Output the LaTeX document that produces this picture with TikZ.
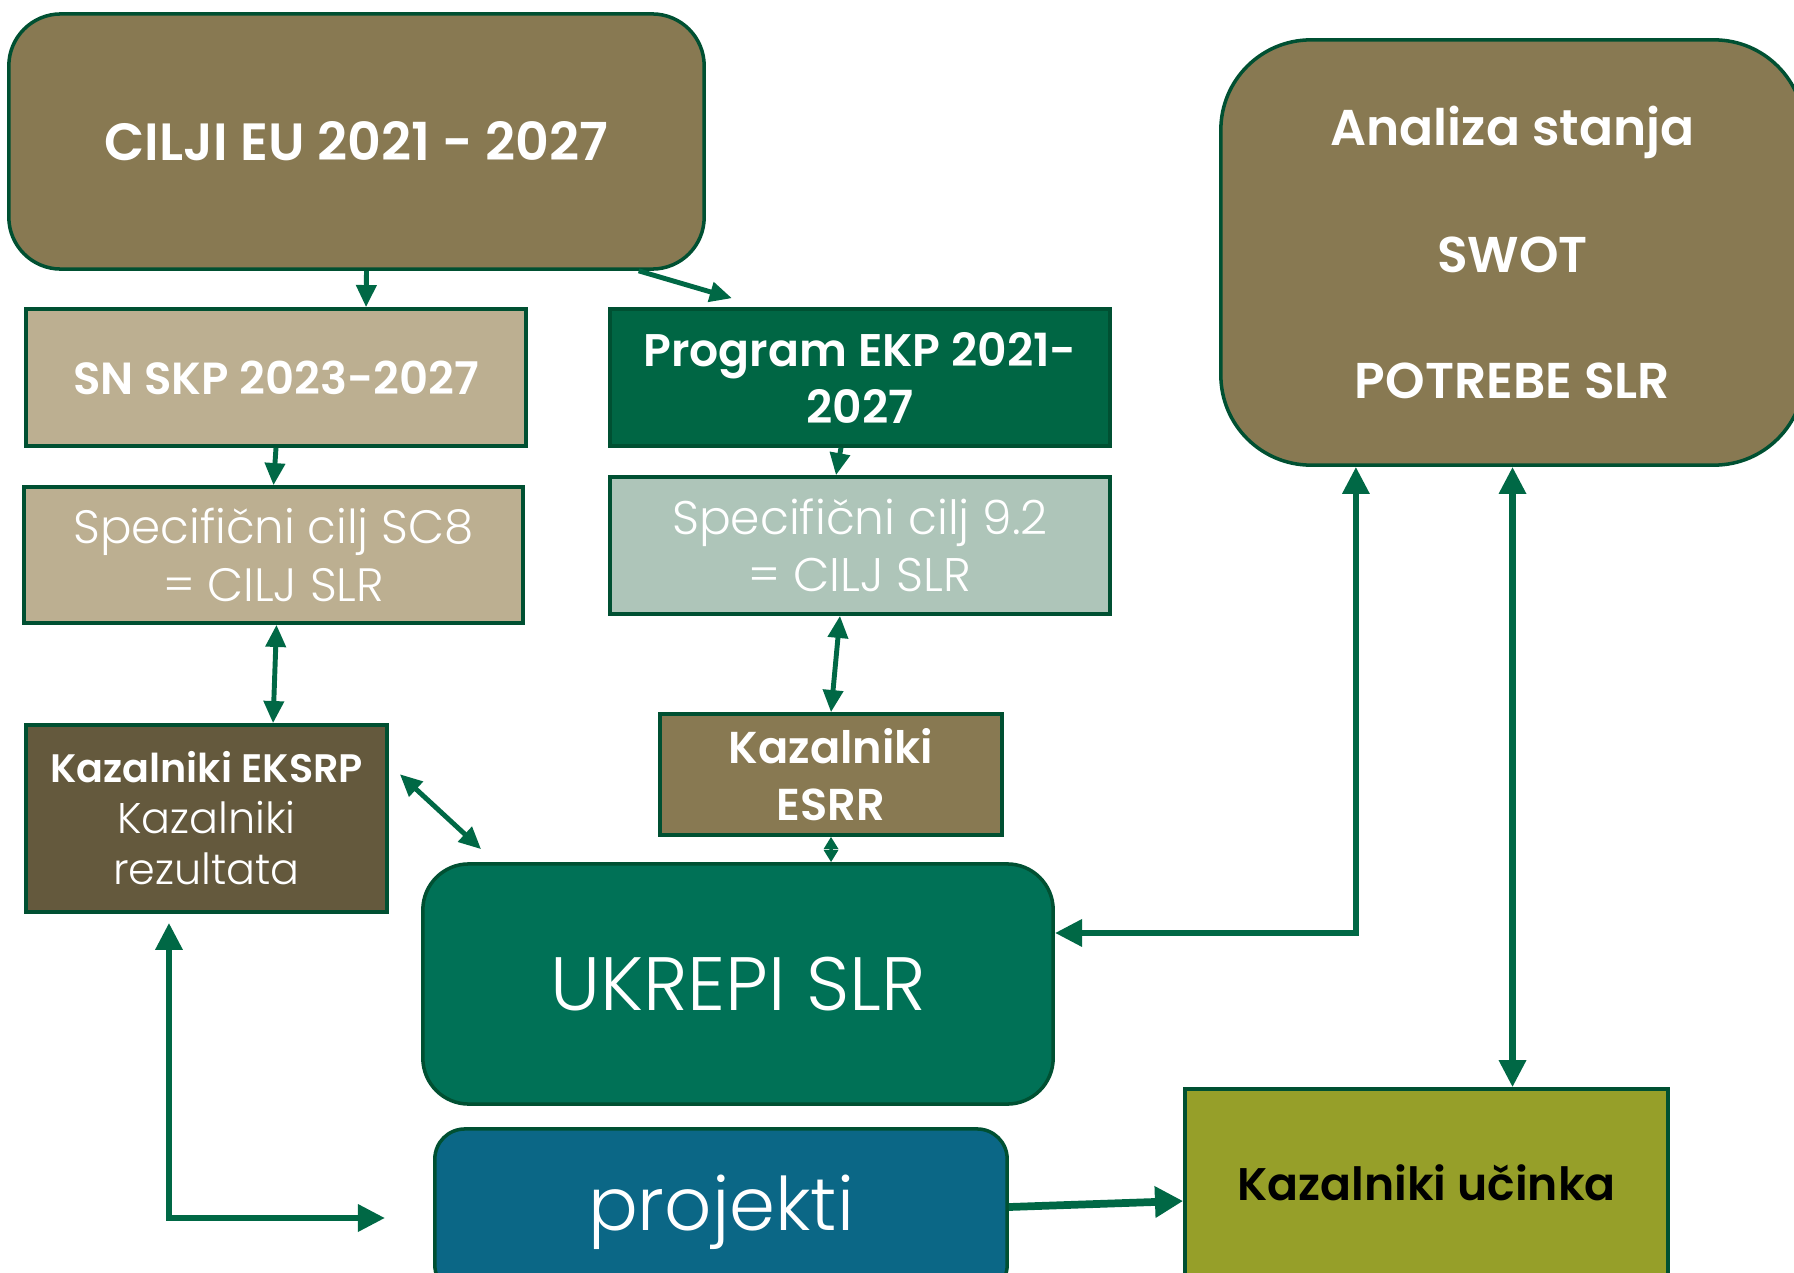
\documentclass[tikz,border=0pt]{standalone}
\usepackage{fontspec}
\setmainfont{Poppins Light}
\newfontfamily\heavy{Poppins SemiBold}
\usetikzlibrary{positioning, arrows.meta}

\definecolor{boxedge}{RGB}{0,80,50}
\definecolor{linkgreen}{RGB}{0,104,69}
\definecolor{boxolive}{RGB}{136,121,82}
\definecolor{boxtan}{RGB}{188,175,145}
\definecolor{boxgreen}{RGB}{0,102,68}
\definecolor{boxsage}{RGB}{174,197,185}
\definecolor{boxbrown}{RGB}{100,89,61}
\definecolor{boxteal}{RGB}{0,113,86}
\definecolor{boxblue}{RGB}{11,103,134}
\definecolor{boxlime}{RGB}{150,159,41}

\begin{document}
\begin{tikzpicture}[x=0.01cm, y=-0.01cm,
        box/.style = {draw=boxedge, line width=1pt, text=white, align=center, inner sep=0pt},
        rbox/.style = {box, rounded corners=#1},
        link/.style = {draw=linkgreen, line width=1.4pt, -{Triangle[length=6.3pt, width=5.6pt]}},
        both/.style = {link, {Triangle[length=6.3pt, width=5.6pt]}-{Triangle[length=6.3pt, width=5.6pt]}},
        tiny/.style = {link, line width=1pt, {Triangle[length=3.5pt, width=4pt]}-{Triangle[length=3.5pt, width=4pt]}},
        thick link/.style = {draw=linkgreen, line width=2.2pt, -{Triangle[length=8pt, width=8.5pt]}},
        both thick/.style = {draw=linkgreen, line width=1.8pt, {Triangle[length=7.7pt, width=7.4pt]}-{Triangle[length=7.7pt, width=7.4pt]}},
        ]
        \useasboundingbox (0,0) rectangle (1794,1273);

        % goals and programmes
        \node[rbox=0.52cm, fill=boxolive, minimum width=6.95cm, minimum height=2.55cm, font=\heavy\fontsize{14.9}{18}\selectfont] (cilji) at (356.5,141.5) {CILJI EU 2021 - 2027};
        \node[box, fill=boxtan, minimum width=5cm, minimum height=1.37cm, font=\heavy\fontsize{12.8}{16}\selectfont] (snskp) at (276,377.5) {SN SKP 2023-2027};
        \node[box, fill=boxgreen, minimum width=5cm, minimum height=1.37cm, font=\heavy\fontsize{13}{16.2}\selectfont] (ekp) at (860,377.5) {Program EKP 2021-\\2027};
        \node[box, fill=boxtan, minimum width=4.99cm, minimum height=1.36cm, font=\fontsize{13.3}{16.5}\selectfont] (sc8) at (273.5,555) {Specifični cilj SC8\\= CILJ SLR};
        \node[box, fill=boxsage, minimum width=5cm, minimum height=1.37cm, font=\fontsize{13.4}{16.2}\selectfont] (sc92) at (860,545.5) {Specifični cilj 9.2\\= CILJ SLR};

        % indicators
        \node[box, fill=boxbrown, minimum width=3.61cm, minimum height=1.87cm, font=\fontsize{12.2}{14.5}\selectfont] (eksrp) at (206.5,818.5) {{\heavy\fontsize{11.3}{14.5}\selectfont Kazalniki EKSRP}\\Kazalniki\\rezultata};
        \node[box, fill=boxolive, minimum width=3.42cm, minimum height=1.21cm, font=\heavy\fontsize{12.7}{16.2}\selectfont] (esrr) at (831,774.5) {Kazalniki\\ESRR};

        \node[rbox=0.46cm, fill=boxteal, minimum width=6.3cm, minimum height=2.4cm, font=\fontsize{21.5}{25}\selectfont] (ukrepi) at (738,984) {UKREPI SLR};
        \node[rbox=0.3cm, fill=boxblue, minimum width=5.72cm, minimum height=1.66cm, font=\fontsize{21}{25}\selectfont] (projekti) at (721,1212) {projekti};
        \node[box, fill=boxlime, text=black, minimum width=4.83cm, minimum height=1.88cm, font=\heavy\fontsize{13}{16}\selectfont] (ucinka) at (1426.5,1183) {Kazalniki učinka};
        \node[rbox=0.9cm, fill=boxolive, minimum width=5.83cm, minimum height=4.25cm, font=\heavy\fontsize{14.3}{36}\selectfont] (analiza) at (1512.5,252.5) {Analiza stanja\\SWOT\\POTREBE SLR};

        \draw[link] ([xshift=.1cm]cilji.south) -- ([xshift=.9cm]snskp.north);
        \draw[link] ([xshift=2.82cm]cilji.south) -- ([xshift=-1.28cm, yshift=.09cm]ekp.north);
        \draw[link] (snskp.south) -- (sc8.north);
        \draw[link] ([xshift=-.19cm]ekp.south) -- ([xshift=-.24cm]sc92.north);
        \draw[both] ([xshift=.03cm]sc8.south) -- ([xshift=.665cm]eksrp.north);
        \draw[both] ([xshift=-.2cm]sc92.south) -- (esrr.north);
        \draw[both] ([xshift=.11cm, yshift=-.51cm]eksrp.north east) -- ([xshift=.6cm, yshift=.13cm]ukrepi.north west);
        \draw[tiny] (esrr.south) -- ([xshift=.93cm]ukrepi.north);

        \draw[both thick] ([xshift=-1.565cm]analiza.south) |- ([yshift=.51cm]ukrepi.east);
        \draw[both thick] (analiza.south) -- (analiza.south |- ucinka.north);
        \draw[both thick] ([xshift=-.375cm, yshift=-.09cm]eksrp.south) |- ([xshift=-.48cm, yshift=-.06cm]projekti.west);
        \draw[thick link] ([yshift=.05cm]projekti.east) -- ([yshift=-.18cm]ucinka.west);
    \end{tikzpicture}
\end{document}
